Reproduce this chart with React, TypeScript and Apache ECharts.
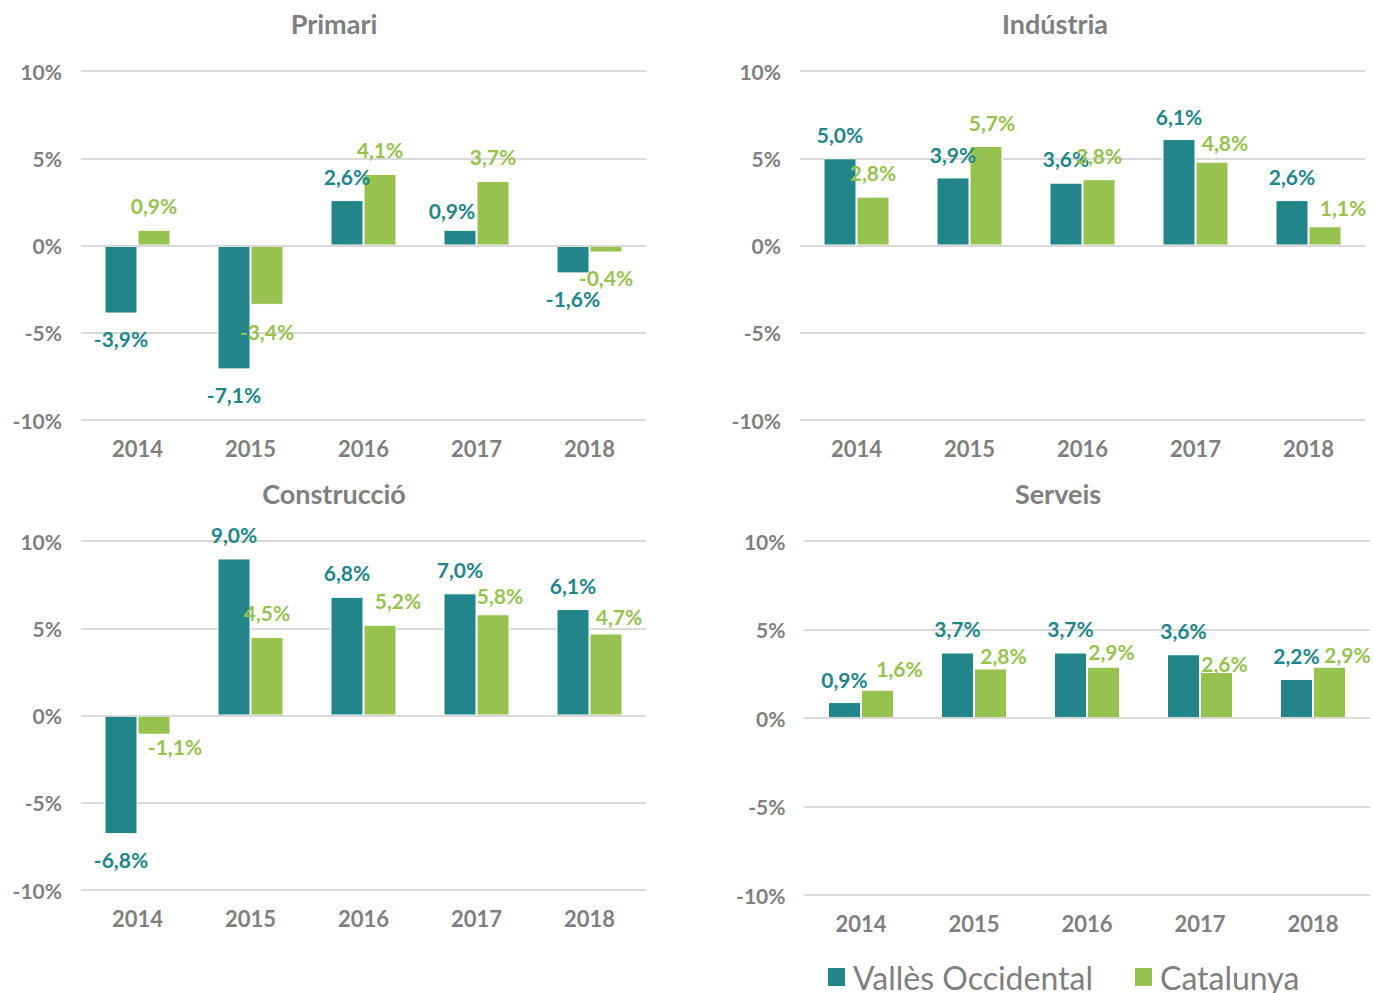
import React, { useEffect, useRef } from "react";
import * as echarts from "echarts";

const years = ["2014", "2015", "2016", "2017", "2018"];
const seriesNames = ["Vallès Occidental", "Catalunya"];
const panelTitles = ["Primari", "Indústria", "Construcció", "Serveis"];

const primariValles = [-3.9, -7.1, 2.6, 0.9, -1.6];
const primariCatalunya = [0.9, -3.4, 4.1, 3.7, -0.4];
const industriaValles = [5.0, 3.9, 3.6, 6.1, 2.6];
const industriaCatalunya = [2.8, 5.7, 3.8, 4.8, 1.1];
const construccioValles = [-6.8, 9.0, 6.8, 7.0, 6.1];
const construccioCatalunya = [-1.1, 4.5, 5.2, 5.8, 4.7];
const serveisValles = [0.9, 3.7, 3.7, 3.6, 2.2];
const serveisCatalunya = [1.6, 2.8, 2.9, 2.6, 2.9];

const yTicks = [-10, -5, 0, 5, 10];

const TEAL = "#21858a";
const GREEN = "#97c250";
const GRAY = "#7f7f7f";
const GRID = "#d9d9d9";
const FONT = "Lato, 'Open Sans', sans-serif";

const panelData = [
  [primariValles, primariCatalunya],
  [industriaValles, industriaCatalunya],
  [construccioValles, construccioCatalunya],
  [serveisValles, serveisCatalunya],
];

// label nudges (pixels) copied from the reference's hand-placed labels: [panel][series][category]
const labelNudges: number[][][][] = [
  [
    [[0, 0], [0, 0], [0, 0], [-8, 5], [0, 0]],
    [[0, 0], [0, 2], [0, 0], [0, 0], [0, 0]],
  ],
  [
    [[0, 0], [0, 1], [0, 0], [0, 1], [0, 0]],
    [[0, 0], [6, 0], [0, 0], [13, 5], [18, 5]],
  ],
  [
    [[0, 0], [0, 0], [0, 0], [0, 0], [0, 0]],
    [[21, -13], [0, 0], [18, 0], [7, 5], [13, 7]],
  ],
  [
    [[0, 1], [0, 0], [0, 0], [0, 0], [0, 0]],
    [[22, 3], [13, 11], [8, 9], [8, 16], [18, 12]],
  ],
];

const grids = [
  { left: 81, top: 71, width: 565, height: 349 },
  { left: 800, top: 71, width: 565, height: 349 },
  { left: 81, top: 541, width: 565, height: 349 },
  { left: 804.5, top: 541, width: 565, height: 354 },
];

const titlePos = [
  { x: 334, y: 23 },
  { x: 1055, y: 23 },
  { x: 334, y: 493 },
  { x: 1058, y: 493 },
];

const fmt = (v: number) => v.toFixed(1).replace(".", ",") + "%";

export default function App() {
  const ref = useRef<HTMLDivElement>(null);
  useEffect(() => {
    if (!ref.current) return;
    const chart = echarts.init(ref.current, null, { renderer: "svg" });
    const colors = [TEAL, GREEN];
    const series: any[] = [];
    panelData.forEach((pair, gi) => {
      pair.forEach((vals, si) => {
        series.push({
          type: "bar",
          name: seriesNames[si],
          xAxisIndex: gi,
          yAxisIndex: gi,
          barWidth: 33,
          barGap: "0%",
          itemStyle: { color: colors[si], borderColor: "#ffffff", borderWidth: 1 },
          data: vals.map((v, ci) => ({
            value: v,
            label: {
              position: v >= 0 ? "top" : "bottom",
              distance: v >= 0 ? 13.5 : 14.5,
              offset: labelNudges[gi][si][ci],
            },
          })),
          label: {
            show: true,
            color: colors[si],
            fontFamily: FONT,
            fontWeight: "bold",
            fontSize: 21,
            formatter: (p: any) => fmt(p.value),
          },
          markLine:
            si === 1
              ? {
                  silent: true,
                  symbol: "none",
                  label: { show: false },
                  lineStyle: { color: GRID, width: 2, type: "solid" },
                  data: [{ yAxis: 0 }],
                }
              : undefined,
        });
      });
    });

    chart.setOption({
      animation: false,
      backgroundColor: "#ffffff",
      textStyle: { fontFamily: FONT },
      legend: {
        data: seriesNames,
        left: 826,
        top: 961,
        padding: 0,
        itemWidth: 19,
        itemHeight: 20,
        itemGap: 40,
        icon: "rect",
        textStyle: { fontSize: 32, color: GRAY, fontFamily: FONT, padding: [0, 0, 0, 2] },
      },
      grid: grids.map((g) => ({ ...g, containLabel: false })),
      xAxis: grids.map((_, i) => ({
        type: "category",
        gridIndex: i,
        data: years,
        axisLine: { show: false },
        axisTick: { show: false },
        axisLabel: {
          margin: 17,
          color: GRAY,
          fontFamily: FONT,
          fontWeight: "bold",
          fontSize: 22,
        },
      })),
      yAxis: grids.map((_, i) => ({
        type: "value",
        gridIndex: i,
        min: yTicks[0],
        max: yTicks[yTicks.length - 1],
        interval: 5,
        axisLine: { show: false },
        axisTick: { show: false },
        splitLine: { lineStyle: { color: GRID, width: 2 } },
        axisLabel: {
          margin: 19,
          color: GRAY,
          fontFamily: FONT,
          fontWeight: "bold",
          fontSize: 21,
          formatter: (v: number) => v + "%",
        },
      })),
      graphic: panelTitles.map((t, i) => ({
        type: "text",
        x: titlePos[i].x,
        y: titlePos[i].y,
        style: {
          text: t,
          fill: GRAY,
          font: `bold 27px ${FONT}`,
          textAlign: "center",
          textVerticalAlign: "middle",
        },
      })),
      series,
    });
    return () => chart.dispose();
  }, []);
  return (
    <div
      ref={ref}
      style={{ position: "fixed", left: 0, top: 0, width: 1373, height: 993 }}
    />
  );
}
